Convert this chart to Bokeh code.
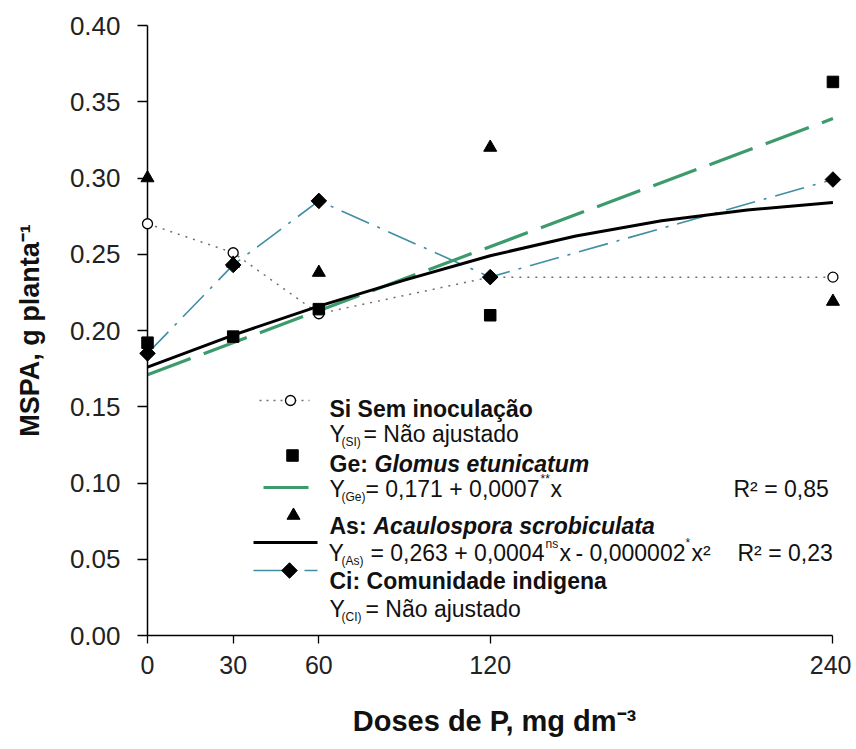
import math
from bokeh.plotting import figure
from bokeh.models import Range1d, FixedTicker, ColumnDataSource
from bokeh.core.properties import value
from bokeh.embed import file_html
from bokeh.resources import INLINE

# ---------------- data ----------------
doses = [0, 30, 60, 120, 240]
si_vals = [0.270, 0.251, 0.211, 0.235, 0.235]   # Sem inoculação
ge_vals = [0.192, 0.196, 0.214, 0.210, 0.363]   # Glomus etunicatum
as_vals = [0.300, 0.244, 0.238, 0.320, 0.219]   # Acaulospora scrobiculata
ci_vals = [0.185, 0.243, 0.285, 0.235, 0.299]   # Comunidade indigena

ge_fit_x = [0, 240]
ge_fit_y = [0.171, 0.339]
as_fit_x = [0, 30, 60, 90, 120, 150, 180, 210, 240]
as_fit_y = [0.176, 0.197, 0.216, 0.233, 0.249, 0.262, 0.272, 0.279, 0.284]

x_ticks = [0, 30, 60, 120, 240]
y_ticks = [0.00, 0.05, 0.10, 0.15, 0.20, 0.25, 0.30, 0.35, 0.40]
y_tick_labels = ["0.00", "0.05", "0.10", "0.15", "0.20", "0.25", "0.30", "0.35", "0.40"]

# ---------------- layout ----------------
FONT = "Liberation Sans"
X0, X1 = 0, 243
Y0, Y1 = 0.0, 0.40
FW, FH = 694, 610
MBL, MBT, MBR, MBB = 147, 25, 10, 110
GREEN = "#3c9a6c"
TEAL = "#3f8ea3"
GREY = "#707070"

p = figure(width=MBL + FW + MBR, height=MBT + FH + MBB,
           frame_width=FW, frame_height=FH,
           min_border_left=MBL, min_border_right=MBR,
           min_border_top=MBT, min_border_bottom=MBB,
           x_range=Range1d(X0, X1), y_range=Range1d(Y0, Y1),
           output_backend="svg", toolbar_location=None,
           background_fill_color="white", border_fill_color="white")
p.outline_line_color = None
p.xgrid.visible = False
p.ygrid.visible = False

# canvas pixel -> data helpers (for legend placement only)
FL = MBL
FT = MBT
def px_x(px):
    return X0 + (px - FL) * (X1 - X0) / FW
def px_y(py):
    return Y1 - (py - FT) * (Y1 - Y0) / FH

# ---------------- series ----------------
p.line(doses, si_vals, line_color=GREY, line_width=1.5, line_dash="2 6")
p.line(doses, ci_vals, line_color=TEAL, line_width=1.6, line_dash="30 9 3 9")
p.line(ge_fit_x, ge_fit_y, line_color=GREEN, line_width=3.2, line_dash="46 14")
p.line(as_fit_x, as_fit_y, line_color="black", line_width=3)

rs = []
rs.append(p.scatter(doses, si_vals, marker="circle", size=10, fill_color="white",
                    line_color="black", line_width=1.3))
rs.append(p.scatter(doses, ge_vals, marker="square", size=11.5, fill_color="black", line_color="black"))
rs.append(p.scatter(doses, as_vals, marker="triangle", size=13, fill_color="black", line_color="black"))
rs.append(p.scatter(doses, ci_vals, marker="square", angle=math.pi / 4, size=11,
                    fill_color="black", line_color="black"))
for r in rs:
    r.level = "overlay"

# ---------------- axes ----------------
xa = p.xaxis[0]
xa.ticker = FixedTicker(ticks=x_ticks)
xa.bounds = (0, 240)
xa.axis_label = "Doses de P, mg dm\u207b\u00b3"
ya = p.yaxis[0]
ya.ticker = FixedTicker(ticks=y_ticks)
ya.major_label_overrides = {t: l for t, l in zip(y_ticks, y_tick_labels)}
ya.bounds = (0, 0.40)
ya.axis_label = "MSPA, g planta\u207b\u00b9"

for ax in (xa, ya):
    ax.axis_line_width = 1.5
    ax.axis_line_color = "black"
    ax.major_tick_line_color = "black"
    ax.major_tick_line_width = 1.3
    ax.major_tick_in = 0
    ax.minor_tick_line_color = None
    ax.major_label_text_font = FONT
    ax.major_label_text_color = "#222222"
    ax.axis_label_text_font = FONT
    ax.axis_label_text_font_style = "bold"
    ax.axis_label_text_color = "#111111"
xa.major_tick_out = 8
xa.major_label_standoff = 12
xa.major_label_text_font_size = "25px"
xa.axis_label_text_font_size = "29px"
xa.axis_label_standoff = 28
ya.major_tick_out = 10
ya.major_label_standoff = 17
ya.major_label_text_font_size = "26px"
ya.axis_label_text_font_size = "27px"
ya.axis_label_standoff = 22

# ---------------- legend (drawn manually) ----------------
p.line([px_x(259), px_x(309)], [px_y(400)] * 2, line_color=GREY, line_width=1.5, line_dash="2 5")
p.line([px_x(263), px_x(308)], [px_y(487)] * 2, line_color=GREEN, line_width=3.2)
p.line([px_x(253), px_x(317)], [px_y(542)] * 2, line_color="black", line_width=3)
p.line([px_x(253), px_x(317)], [px_y(570)] * 2, line_color=TEAL, line_width=1.6, line_dash="30 9 3 9")
p.scatter([px_x(290)], [px_y(400)], marker="circle", size=10, fill_color="white",
          line_color="black", line_width=1.3)
p.scatter([px_x(292)], [px_y(455)], marker="square", size=11.5, fill_color="black", line_color="black")
p.scatter([px_x(293)], [px_y(515)], marker="triangle", size=13, fill_color="black", line_color="black")
p.scatter([px_x(289)], [px_y(570)], marker="square", angle=math.pi / 4, size=11,
          fill_color="black", line_color="black")

# text pieces: (text, px_x, baseline px_y, style, size)
pieces = [
    ("Si Sem inoculação", 329, 408, "bold", "23px"),
    ("Y", 329, 433, "normal", "23px"),
    ("(SI)", 341, 441, "normal", "12px"),
    ("= Não ajustado", 363, 433, "normal", "23px"),
    ("Ge:", 329, 463, "bold", "23px"),
    ("Glomus etunicatum", 374, 463, "bold italic", "23px"),
    ("Y", 329, 488, "normal", "23px"),
    ("(Ge)", 341, 496, "normal", "12px"),
    ("= 0,171 + 0,0007", 365, 488, "normal", "23px"),
    ("**", 540, 478, "normal", "12px"),
    ("x", 550, 488, "normal", "23px"),
    ("R² = 0,85", 733, 488, "normal", "23px"),
    ("As:", 329, 525, "bold", "23px"),
    ("Acaulospora scrobiculata", 373, 525, "bold italic", "23px"),
    ("Y", 328, 552, "normal", "23px"),
    ("(As)", 341, 560, "normal", "12px"),
    ("= 0,263 + 0,0004", 370, 552, "normal", "23px"),
    ("ns", 545, 543, "normal", "12px"),
    ("x", 559, 552, "normal", "23px"),
    ("- 0,000002", 575, 552, "normal", "23px"),
    ("*", 685, 542, "normal", "12px"),
    ("x²", 691, 552, "normal", "23px"),
    ("R² = 0,23", 737, 552, "normal", "23px"),
    ("Ci: Comunidade indigena", 329, 580, "bold", "23px"),
    ("Y", 329, 608, "normal", "23px"),
    ("(CI)", 341, 616, "normal", "12px"),
    ("= Não ajustado", 365, 608, "normal", "23px"),
]
src = ColumnDataSource(dict(
    x=[px_x(t[1]) for t in pieces],
    y=[px_y(t[2]) for t in pieces],
    text=[t[0] for t in pieces],
    style=[t[3] for t in pieces],
    size=[t[4] for t in pieces],
))
p.text(x="x", y="y", text="text", source=src, text_font=value(FONT),
       text_font_style="style", text_font_size="size", text_color="#111111",
       text_align="left", text_baseline="alphabetic")

open("out.html", "w").write(file_html(p, INLINE))
